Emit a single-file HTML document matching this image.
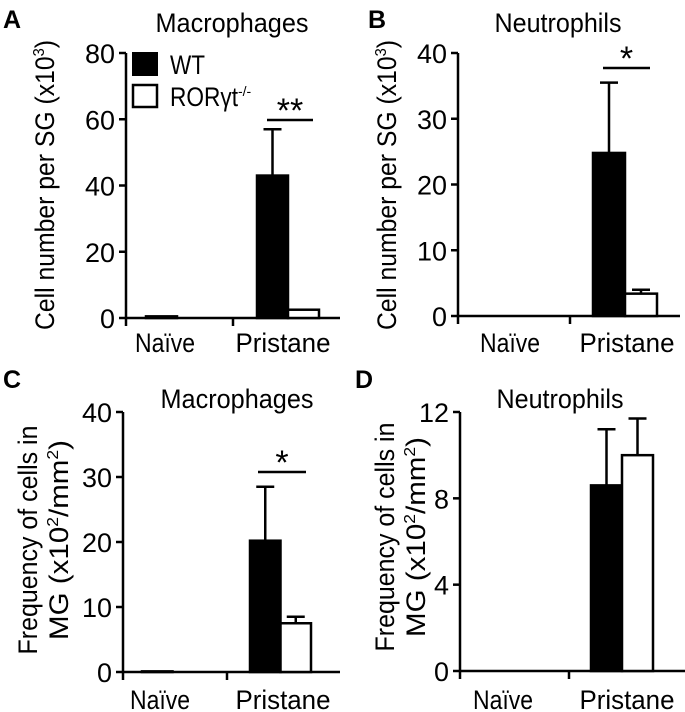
<!DOCTYPE html>
<html><head><meta charset="utf-8"><style>
body{margin:0;background:#fff}
svg{display:block;font-family:"Liberation Sans",Arial,sans-serif}
</style></head><body>
<svg id="fig" width="685" height="712" viewBox="0 0 685 712"></svg>
<script>
const categories=["Naïve","Pristane"];
const aWT=[0.5,43], aWTerr=[0,57], aKO=[0,2.5], aKOerr=[0,2.5];
const bWT=[0,24.8], bWTerr=[0,35.5], bKO=[0,3.4], bKOerr=[0,4];
const cWT=[0.1,20.2], cWTerr=[0,28.5], cKO=[0,7.5], cKOerr=[0,8.5];
const dWT=[0,8.6], dWTerr=[0,11.2], dKO=[0,10], dKOerr=[0,11.7];
const aTicks=[0,20,40,60,80], bTicks=[0,10,20,30,40], cTicks=[0,10,20,30,40], dTicks=[0,4,8,12];

const NS="http://www.w3.org/2000/svg";
const svg=document.getElementById('fig');
function el(tag,attrs,parent,text){const e=document.createElementNS(NS,tag);for(const k in attrs)e.setAttribute(k,attrs[k]);if(text!==undefined)e.textContent=text;(parent||svg).appendChild(e);return e;}
const FS=27;
const catW={"Naïve":60,"Pristane":95};

const panels=[
 {id:'a',letter:'A',lx:3,ly:28,title:'Macrophages',tw:153,tx:232,ty:32,ax:126,y0:318,yTop:53,max:80,ticks:aTicks,xEnd:340,mid:233,
  wt:aWT,wte:aWTerr,ko:aKO,koe:aKOerr,bar0:257,bw:31,catX:[165,283],labY:352,
  ylab:['Cell number per SG (x10','3',')'],ylx:[54],yly:185,ylw:290,sig:{t:'**',x1:267,x2:313,y:120}},
 {id:'b',letter:'B',lx:368,ly:28,title:'Neutrophils',tw:127,tx:558,ty:32,ax:458,y0:316,yTop:53,max:40,ticks:bTicks,xEnd:680,mid:570,
  wt:bWT,wte:bWTerr,ko:bKO,koe:bKOerr,bar0:593,bw:32,catX:[510,627],labY:352,
  ylab:['Cell number per SG (x10','3',')'],ylx:[396],yly:185,ylw:290,sig:{t:'*',x1:603,x2:650,y:68}},
 {id:'c',letter:'C',lx:3,ly:388,title:'Macrophages',tw:153,tx:237,ty:408,ax:123,y0:672,yTop:412,max:40,ticks:cTicks,xEnd:340,mid:227,
  wt:cWT,wte:cWTerr,ko:cKO,koe:cKOerr,bar0:250,bw:30.5,catX:[160,283],labY:709,
  ylab2:true,ylx:[37,68],yly:540,sig:{t:'*',x1:258,x2:306,y:472}},
 {id:'d',letter:'D',lx:355,ly:388,title:'Neutrophils',tw:127,tx:560,ty:408,ax:460,y0:671,yTop:412,max:12,ticks:dTicks,xEnd:685,mid:569,
  wt:dWT,wte:dWTerr,ko:dKO,koe:dKOerr,bar0:591,bw:31,catX:[503,627],labY:709,
  ylab2:true,ylx:[394,425],yly:537,sig:null}
];

panels.forEach(p=>{
 const g=el('g',{});
 
 
 const y=v=>p.y0-(v/p.max)*(p.y0-p.yTop);
 const lt=el('text',{x:p.lx,y:p.ly,'font-size':25,'font-weight':'bold'},g,p.letter);
 
 
 const tt=el('text',{x:p.tx,y:p.ty,'font-size':FS,'text-anchor':'middle',textLength:p.tw,lengthAdjust:'spacingAndGlyphs'},g,p.title);
 
 
 const ya=el('line',{x1:p.ax,y1:p.yTop,x2:p.ax,y2:p.y0+1,stroke:'#000','stroke-width':2.5},g);
 
 
 p.ticks.forEach(t=>{
  el('line',{x1:p.ax-7,y1:y(t),x2:p.ax,y2:y(t),stroke:'#000','stroke-width':2.5},g);
  const s=String(t);
  const tl=el('text',{x:p.ax-11,y:y(t)+10,'font-size':FS,'text-anchor':'end',textLength:15*s.length,lengthAdjust:'spacingAndGlyphs'},g,s);
  
  
 });
 const xa=el('line',{x1:p.ax,y1:p.y0,x2:p.xEnd,y2:p.y0,stroke:'#000','stroke-width':2.5},g);
 
 
 el('line',{x1:p.ax,y1:p.y0,x2:p.ax,y2:p.y0+8,stroke:'#000','stroke-width':2.5},g);
 el('line',{x1:p.mid,y1:p.y0,x2:p.mid,y2:p.y0+8,stroke:'#000','stroke-width':2.5},g);
 categories.forEach((c,i)=>{
  const cl=el('text',{x:p.catX[i],y:p.labY,'font-size':FS,'text-anchor':'middle',textLength:catW[c],lengthAdjust:'spacingAndGlyphs'},g,c);
  
  
 });
 const groupStart=[p.ax+(p.bar0-p.mid)-4,p.bar0];
 categories.forEach((c,i)=>{
  const x0=groupStart[i];
  [[p.wt,p.wte,'#000','wt'],[p.ko,p.koe,'#fff','ko']].forEach((s,j)=>{
   const v=s[0][i], e=s[1][i];
   const bx=x0+j*p.bw;
   if(v>0){
    const r=el('rect',{x:bx,y:y(v),width:p.bw,height:p.y0-y(v),fill:s[2],stroke:'#000','stroke-width':2.5},g);
    
    
   }
   if(e>v){
    const cx=bx+p.bw/2;
    el('line',{x1:cx,y1:y(v),x2:cx,y2:y(e),stroke:'#000','stroke-width':2.5},g);
    const eb=el('line',{x1:cx-9,y1:y(e),x2:cx+9,y2:y(e),stroke:'#000','stroke-width':2.5},g);
    
    
   }
  });
 });
 if(p.ylab){
  const t=el('text',{transform:`translate(${p.ylx[0]},${p.yly}) rotate(-90)`,'font-size':FS,'text-anchor':'middle',textLength:p.ylw,lengthAdjust:'spacingAndGlyphs'},g);
  
  
  el('tspan',{},t,p.ylab[0]);el('tspan',{dy:-10,'font-size':16},t,p.ylab[1]);el('tspan',{dy:10},t,p.ylab[2]);
 } else {
  const t1=el('text',{transform:`translate(${p.ylx[0]},${p.yly}) rotate(-90)`,'font-size':FS,'text-anchor':'middle',textLength:229,lengthAdjust:'spacingAndGlyphs'},g,'Frequency of cells in');
  
  
  const t2=el('text',{transform:`translate(${p.ylx[1]},${p.yly}) rotate(-90)`,'font-size':FS,'text-anchor':'middle',textLength:200,lengthAdjust:'spacingAndGlyphs'},g);
  el('tspan',{},t2,'MG (x10');el('tspan',{dy:-10,'font-size':16},t2,'2');el('tspan',{dy:10},t2,'/mm');el('tspan',{dy:-10,'font-size':16},t2,'2');el('tspan',{dy:10},t2,')');
 }
 if(p.sig){
  const sl=el('line',{x1:p.sig.x1,y1:p.sig.y,x2:p.sig.x2,y2:p.sig.y,stroke:'#000','stroke-width':2.5},g);
  
  
  const st=el('text',{x:(p.sig.x1+p.sig.x2)/2,y:p.sig.y+2,'font-size':34,'text-anchor':'middle'},g,p.sig.t);
  
  
 }
});
const lg=el('g',{});


const l1=el('rect',{x:133,y:53,width:24,height:22,fill:'#000',stroke:'#000','stroke-width':2},lg);


const l1t=el('text',{x:170,y:74,'font-size':FS,textLength:35,lengthAdjust:'spacingAndGlyphs'},lg,'WT');


const l2=el('rect',{x:133,y:85,width:24,height:22,fill:'#fff',stroke:'#000','stroke-width':2.5},lg);


const l2t=el('text',{x:170,y:106,'font-size':FS},lg);


el('tspan',{textLength:68,lengthAdjust:'spacingAndGlyphs'},l2t,'RORγt');el('tspan',{dy:-10,'font-size':14},l2t,'-/-');
</script>
</body></html>
